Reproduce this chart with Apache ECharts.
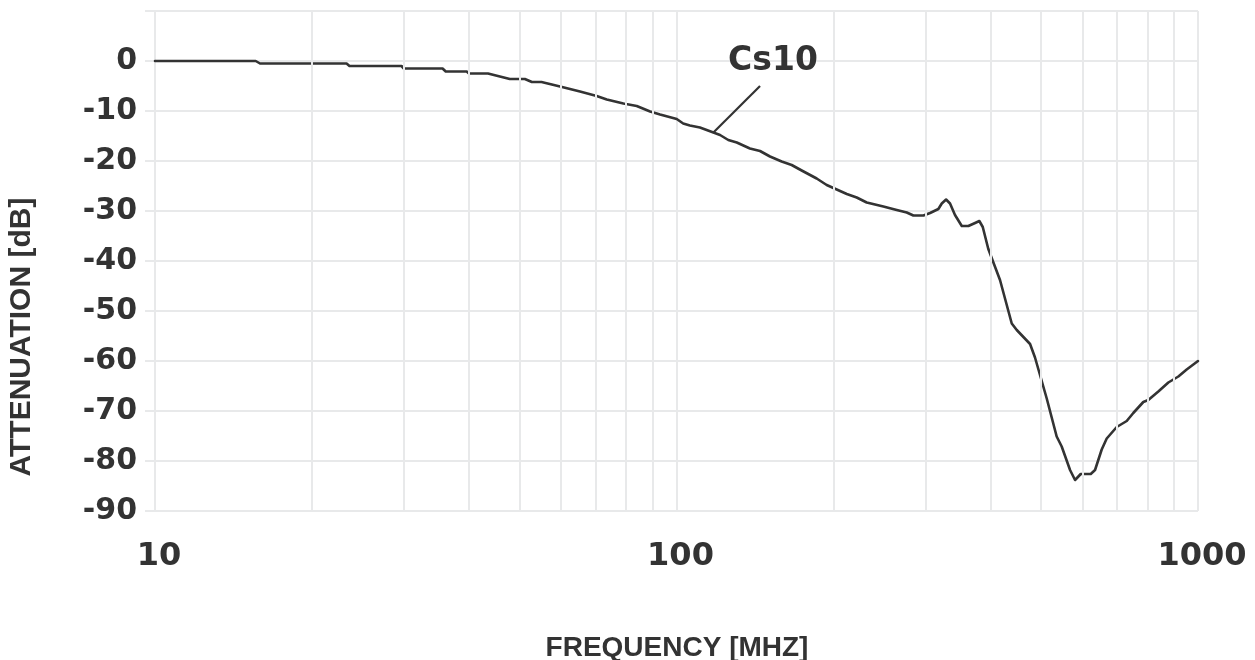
<!DOCTYPE html>
<html>
<head>
<meta charset="utf-8">
<title>Cs10 attenuation</title>
<script src="https://cdn.jsdelivr.net/npm/echarts@6/dist/echarts.min.js"></script>
<style>
  html, body { margin: 0; padding: 0; background: #ffffff; }
  #chart { width: 1255px; height: 660px; }
</style>
</head>
<body>
<div id="chart"></div>
<script>
// Measured attenuation of the Cs10 filter
const freqMHz = [
  10, 15.6, 15.9, 23.3, 23.6, 29.7, 30.0, 35.6, 36.1, 39.6, 40.0, 43.5,
  47.9, 51.2, 52.8, 55.1, 59.8, 65.3, 70.3, 73.5, 79.1, 83.9, 89.0, 93.0,
  100.1, 103.0, 106.1, 110.9, 117.7, 121.2, 125.7, 130.5, 138.3, 144.6, 151.1,
  159.1, 166.3, 173.8, 185.7, 194.1, 212.1, 221.6, 231.6, 249.3, 264.4, 276.4,
  284.6, 297.5, 306.4, 317.8, 322.6, 328.8, 334.6, 342.0, 352.4, 362.8, 373.7,
  380.8, 386.6, 396.2, 417.2, 439.4, 449.2, 476.4, 486.9, 512.8, 535.8, 547.8,
  568.4, 581.1, 595.9, 622.8, 634.7, 653.7, 668.3, 698.5, 730.0, 751.5, 785.5,
  803.0, 839.3, 877.3, 916.9, 951.3, 1000
];
const attenuationDb = [
  0, 0, -0.5, -0.5, -1.0, -1.0, -1.5, -1.5, -2.1, -2.1, -2.5, -2.5,
  -3.6, -3.6, -4.2, -4.2, -5.1, -6.1, -7.0, -7.7, -8.5, -9.0, -10.1, -10.7,
  -11.6, -12.5, -12.9, -13.3, -14.3, -14.8, -15.8, -16.3, -17.5, -18.0, -19.1,
  -20.1, -20.8, -21.9, -23.5, -24.8, -26.6, -27.3, -28.3, -29.1, -29.8, -30.3,
  -30.9, -30.9, -30.4, -29.6, -28.5, -27.7, -28.5, -30.8, -33.0, -33.0, -32.4,
  -32.0, -33.2, -37.6, -43.8, -52.5, -53.8, -56.6, -59.3, -67.5, -75.1, -77.1,
  -81.8, -83.8, -82.6, -82.6, -81.8, -77.7, -75.5, -73.2, -72.0, -70.4, -68.2,
  -67.8, -66.1, -64.3, -63.1, -61.7, -60.0
];

// Intermediate vertical grid lines of the logarithmic frequency axis
const minorFreqs = [20, 30, 40, 50, 60, 70, 80, 90, 200, 300, 400, 500, 600, 700, 800, 900];

// Series name callout: label anchor and leader line end points [MHz, dB]
const seriesLabel = 'Cs10';
const labelAnchor = [153.1, 0.0];
const leaderStart = [144.6, -5.0];
const leaderEnd = [117.7, -14.3];

const GRID = '#e8e9ea';
const INK = '#333333';

const chart = echarts.init(document.getElementById('chart'), null, { renderer: 'canvas' });

chart.setOption({
  animation: false,
  backgroundColor: '#ffffff',
  grid: { left: 155, right: 57, top: 11, bottom: 149, containLabel: false },
  xAxis: {
    type: 'log',
    logBase: 10,
    min: 10,
    max: 1000,
    axisLine: { show: false },
    axisTick: { show: false },
    splitLine: { show: true, lineStyle: { color: GRID, width: 2 } },
    axisLabel: {
      color: INK,
      fontFamily: 'DejaVu Sans',
      fontWeight: 'bold',
      fontSize: 32,
      margin: 30,
      padding: [0, 0, 0, 8],
      formatter: v => String(v)
    }
  },
  yAxis: {
    type: 'value',
    min: -90,
    max: 10,
    interval: 10,
    axisLine: { show: false },
    axisTick: { show: true, length: 10, lineStyle: { color: GRID, width: 2 } },
    splitLine: { show: true, lineStyle: { color: GRID, width: 2 } },
    axisLabel: {
      color: INK,
      fontFamily: 'DejaVu Sans',
      fontWeight: 'bold',
      fontSize: 30,
      margin: 18,
      padding: [0, 0, 6, 0],
      formatter: v => (v > 0 ? '' : String(v))
    }
  },
  graphic: [
    {
      type: 'text',
      x: 22,
      y: 337,
      rotation: Math.PI / 2,
      style: {
        text: 'ATTENUATION [dB]',
        fill: INK,
        font: 'bold 30px "Liberation Sans", Arial, sans-serif',
        textAlign: 'center',
        textVerticalAlign: 'middle'
      }
    },
    {
      type: 'text',
      x: 677,
      y: 648,
      style: {
        text: 'FREQUENCY [MHZ]',
        fill: INK,
        font: 'bold 28px "Liberation Sans", Arial, sans-serif',
        textAlign: 'center',
        textVerticalAlign: 'middle'
      }
    }
  ],
  series: [
    {
      name: 'minor grid',
      type: 'line',
      data: [],
      z: 1,
      silent: true,
      markLine: {
        silent: true,
        symbol: ['none', 'none'],
        label: { show: false },
        lineStyle: { color: GRID, width: 2, type: 'solid' },
        emphasis: { disabled: true },
        data: minorFreqs.map(f => ({ xAxis: f }))
      }
    },
    {
      name: seriesLabel,
      type: 'line',
      z: 3,
      data: freqMHz.map((f, i) => [f, attenuationDb[i]]),
      showSymbol: false,
      smooth: false,
      lineStyle: { color: INK, width: 2.6, join: 'round', cap: 'round' },
      markLine: {
        silent: true,
        symbol: ['none', 'none'],
        label: { show: false },
        lineStyle: { color: INK, width: 2.2, type: 'solid' },
        emphasis: { disabled: true },
        data: [[{ coord: leaderStart }, { coord: leaderEnd }]]
      },
      markPoint: {
        silent: true,
        symbol: 'rect',
        symbolSize: 0,
        label: {
          show: true,
          position: 'inside',
          formatter: seriesLabel,
          color: INK,
          fontFamily: 'DejaVu Sans',
          fontWeight: 'bold',
          fontSize: 33
        },
        data: [{ coord: labelAnchor }]
      }
    }
  ]
});
</script>
</body>
</html>
